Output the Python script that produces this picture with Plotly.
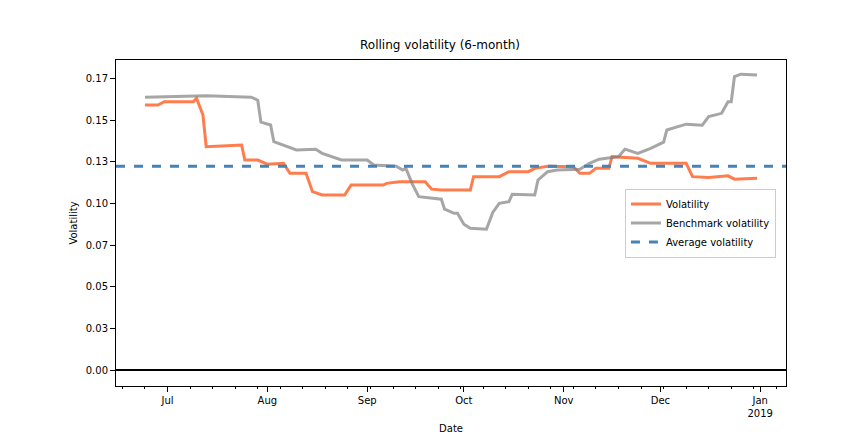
import plotly.graph_objects as go

vol_dates = ['2018-06-24', '2018-06-28', '2018-06-30', '2018-07-09', '2018-07-10', '2018-07-12',
             '2018-07-13', '2018-07-24', '2018-07-25', '2018-07-29', '2018-08-01', '2018-08-06',
             '2018-08-08', '2018-08-13', '2018-08-15', '2018-08-18', '2018-08-25', '2018-08-27',
             '2018-09-06', '2018-09-07', '2018-09-11', '2018-09-19', '2018-09-21', '2018-09-24',
             '2018-10-03', '2018-10-04', '2018-10-12', '2018-10-15', '2018-10-21', '2018-10-23',
             '2018-10-27', '2018-11-04', '2018-11-06', '2018-11-09', '2018-11-11', '2018-11-15',
             '2018-11-16', '2018-11-24', '2018-11-28', '2018-12-09', '2018-12-11', '2018-12-16',
             '2018-12-22', '2018-12-24', '2018-12-31']
vol_values = [0.159, 0.159, 0.161, 0.161, 0.163, 0.153,
              0.134, 0.135, 0.126, 0.126, 0.1235, 0.124,
              0.118, 0.118, 0.107, 0.105, 0.105, 0.111,
              0.111, 0.112, 0.113, 0.113, 0.1085, 0.108,
              0.108, 0.116, 0.116, 0.119, 0.119, 0.121,
              0.1223, 0.122, 0.118, 0.118, 0.121, 0.121,
              0.128, 0.127, 0.124, 0.124, 0.116, 0.1155,
              0.1165, 0.1145, 0.115]

bench_dates = ['2018-06-24', '2018-07-13', '2018-07-27', '2018-07-29', '2018-07-30', '2018-08-02',
               '2018-08-03', '2018-08-07', '2018-08-10', '2018-08-16', '2018-08-18', '2018-08-24',
               '2018-09-01', '2018-09-03', '2018-09-10', '2018-09-12', '2018-09-13', '2018-09-15',
               '2018-09-17', '2018-09-24', '2018-09-25', '2018-09-28', '2018-09-29', '2018-10-01',
               '2018-10-03', '2018-10-08', '2018-10-10', '2018-10-12', '2018-10-15', '2018-10-16',
               '2018-10-23', '2018-10-24', '2018-10-27', '2018-10-30', '2018-11-06', '2018-11-09',
               '2018-11-12', '2018-11-18', '2018-11-20', '2018-11-24', '2018-11-28', '2018-12-02',
               '2018-12-03', '2018-12-09', '2018-12-14', '2018-12-16', '2018-12-20', '2018-12-22',
               '2018-12-23', '2018-12-24', '2018-12-26', '2018-12-31']
bench_values = [0.1637, 0.1645, 0.1637, 0.1619, 0.1487, 0.147,
                0.137, 0.134, 0.132, 0.1325, 0.130, 0.126,
                0.126, 0.123, 0.1223, 0.120, 0.121, 0.1115,
                0.104, 0.1025, 0.0965, 0.094, 0.094, 0.0875,
                0.085, 0.0845, 0.0947, 0.100, 0.101, 0.1055,
                0.105, 0.114, 0.119, 0.120, 0.1205, 0.124,
                0.1265, 0.128, 0.1325, 0.130, 0.133, 0.1367,
                0.144, 0.1475, 0.1469, 0.152, 0.154, 0.161,
                0.161, 0.176, 0.1775, 0.177]

avg_vol = 0.1223
y_ticks = [0, 0.025, 0.05, 0.075, 0.1, 0.125, 0.15, 0.175]
x_ticks = ['2018-07-01', '2018-08-01', '2018-09-01', '2018-10-01', '2018-11-01', '2018-12-01', '2019-01-01']
x_labels = ['Jul', 'Aug', 'Sep', 'Oct', 'Nov', 'Dec', 'Jan<br>2019']
x_range = ['2018-06-15', '2019-01-09']

fig = go.Figure()
fig.add_trace(go.Scatter(x=vol_dates, y=vol_values, mode='lines', name='Volatility',
                         line=dict(color='rgba(255,69,0,0.7)', width=3)))
fig.add_trace(go.Scatter(x=bench_dates, y=bench_values, mode='lines', name='Benchmark volatility',
                         line=dict(color='rgba(128,128,128,0.7)', width=3)))
fig.add_trace(go.Scatter(x=x_range, y=[avg_vol, avg_vol], mode='lines', name='Average volatility',
                         line=dict(color='steelblue', width=3, dash='dash')))
fig.add_trace(go.Scatter(x=x_range, y=[0, 0], mode='lines', showlegend=False,
                         line=dict(color='black', width=2)))

axis_style = dict(showline=True, mirror=True, linecolor='black', linewidth=1, ticks='outside',
                  tickcolor='black', showgrid=False, zeroline=False, automargin=False)

fig.update_layout(
    width=864, height=432,
    margin=dict(l=108, r=86, t=52, b=54),
    plot_bgcolor='white', paper_bgcolor='white',
    font=dict(family='DejaVu Sans', size=10, color='black'),
    title=dict(text='Rolling volatility (6-month)', x=0.5, xanchor='center', y=0.925, font=dict(size=12)),
    xaxis=dict(range=x_range, tickvals=x_ticks, ticktext=x_labels,
               title=dict(text='Date', standoff=6, font=dict(size=10)),
               minor=dict(ticks='outside', dtick=7 * 86400000, tick0='2018-06-17', ticklen=2, tickcolor='black'),
               **axis_style),
    yaxis=dict(range=[-0.0096, 0.186], tickvals=y_ticks, tickformat='.2f',
               title=dict(text='Volatility', standoff=6, font=dict(size=10)),
               **axis_style),
    legend=dict(x=0.985, y=0.5, xanchor='right', yanchor='middle', bgcolor='rgba(255,255,255,0.8)',
                bordercolor='#ccc', borderwidth=1),
)

fig.write_html("out.html")
